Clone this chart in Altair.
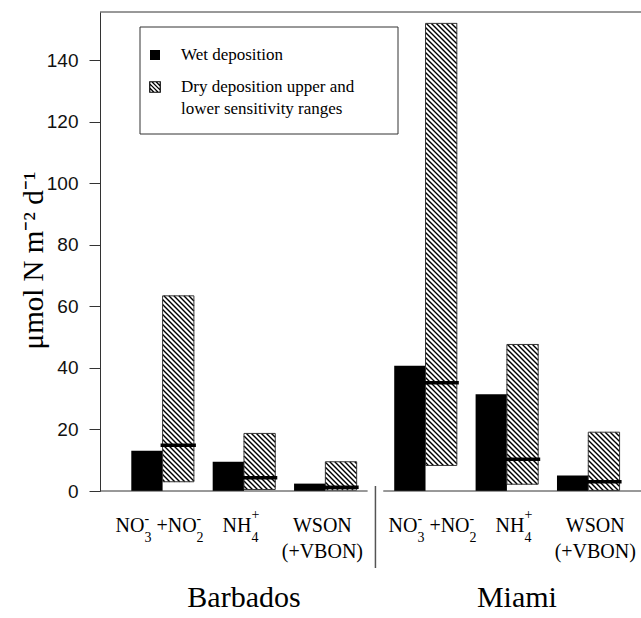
import altair as alt
import numpy as np
import pandas as pd

# ---------------- data ----------------
sites = ["Barbados", "Miami"]
species = ["NO3", "NH4", "WSON"]
wet = [13.1, 9.5, 2.4, 40.7, 31.4, 5.0]
dry_low = [3.0, 0.5, 0.3, 8.3, 2.2, 0.2]
dry_high = [63.4, 18.7, 9.5, 151.9, 47.6, 19.1]
dry_mid = [14.9, 4.3, 1.2, 35.2, 10.3, 3.0]
y_ticks = [0, 20, 40, 60, 80, 100, 120, 140]
y_title = "μmol N m⁻² d⁻¹"
legend_labels = ["Wet deposition", "Dry deposition upper and", "lower sensitivity ranges"]
# species labels: pieces (text, kind) m=main, b=subscript, p=superscript, q=high superscript,
# s=space, r=second row
species_labels = {
    "NO3": [("NO", "m"), ("3", "b"), ("-", "p"), (" ", "s"), ("+NO", "m"), ("2", "b"), ("-", "p")],
    "NH4": [("NH", "m"), ("4", "b"), ("+", "q")],
    "WSON": [("WSON", "m"), ("(+VBON)", "r")],
}

# ---------------- layout ----------------
W, H = 541, 479
BAR_PX = 31.3
XMAX = W / BAR_PX
YMAX = 155.6
PXX = W / XMAX
PXY = H / YMAX
FIRST, STEP, SITE_GAP = 1.0, 2.6, 0.6
HATCH = 5.0
INK = "#333333"
SERIF = "Liberation Serif"
SANS = "Liberation Sans"
SITE_LABEL_SHIFT = [0, 10]      # px
SPECIES_LABEL_SHIFT = [-3, 7]   # px, per site

xs = alt.Scale(domain=[0, XMAX], nice=False, zero=False)
ys = alt.Scale(domain=[0, YMAX], nice=False, zero=False)

rows = []
for k in range(6):
    s, i = divmod(k, 3)
    left = FIRST + k * STEP + s * SITE_GAP
    rows.append(dict(site=sites[s], s=s, species=species[i], wl=left, wr=left + 1,
                     dl=left + 1, dr=left + 2, zero=0.0, wet=wet[k],
                     lo=dry_low[k], hi=dry_high[k], mid=dry_mid[k]))
bars = pd.DataFrame(rows)

# hatch segments (45 degree lines in screen space, clipped to each dry bar)
segs = []
for r in rows:
    X0, X1 = r["dl"] * PXX, r["dr"] * PXX
    Yt, Yb = (YMAX - r["hi"]) * PXY, (YMAX - r["lo"]) * PXY
    kmin = int(np.floor((Yt - X1) / HATCH)) - 1
    kmax = int(np.ceil((Yb - X0) / HATCH)) + 1
    for kk in range(kmin, kmax + 1):
        c = kk * HATCH
        a = max(X0, Yt - c)
        b = min(X1, Yb - c)
        if b - a > 0.4:
            segs.append(dict(x=a / PXX, x2=b / PXX,
                             y=YMAX - (a + c) / PXY, y2=YMAX - (b + c) / PXY))
hatch_df = pd.DataFrame(segs)

# frame lines
b_end = rows[2]["dr"]
m_start = rows[3]["wl"]
sep = (b_end + m_start) / 2
frame_df = pd.DataFrame([
    dict(x0=0.0, x1=XMAX, y=YMAX),
    dict(x0=0.0, x1=sep - 0.25, y=0.0),
    dict(x0=sep + 0.25, x1=XMAX, y=0.0),
])
sep_df = pd.DataFrame([dict(x=sep)])

# species label pieces
TW = {"N": 722, "O": 722, "H": 722, "W": 944, "S": 556, "B": 667, "V": 722,
      "+": 564, "(": 333, ")": 333, "-": 333, " ": 250, "2": 500, "3": 500, "4": 500}


def tw(s, fs):
    return sum(TW[c] for c in s) / 1000 * fs


FS, FSS = 20, 14
pieces = []
for r in rows:
    parts = species_labels[r["species"]]
    cursor = 0.0
    stack_x, stack_w = 0.0, 0.0
    placed = []
    prev = None
    row2 = None
    for t, kind in parts:
        if kind == "r":
            row2 = t
            continue
        fs = FSS if kind in ("b", "p", "q") else FS
        w = tw(t, fs)
        if kind == "b":
            stack_x, stack_w = cursor, w
            placed.append((t, cursor, kind))
            cursor += w
        elif kind in ("p", "q") and prev == "b":
            placed.append((t, stack_x, kind))
            cursor = stack_x + max(stack_w, w)
        elif kind == "s":
            cursor += w
        else:
            placed.append((t, cursor, kind))
            cursor += w
        prev = kind
    total = cursor
    shift = SPECIES_LABEL_SHIFT[r["s"]]
    for t, dx, kind in placed:
        pieces.append(dict(t=t, x=r["dl"] + (dx - total / 2 + shift) / PXX, kind=kind))
    if row2:
        pieces.append(dict(t=row2, x=r["dl"] + (shift - tw(row2, FS) / 2) / PXX, kind="r"))
pieces_df = pd.DataFrame(pieces)

site_df = pd.DataFrame([
    dict(t=sites[0], x=(rows[0]["wl"] + rows[2]["dr"]) / 2 + SITE_LABEL_SHIFT[0] / PXX),
    dict(t=sites[1], x=(rows[3]["wl"] + rows[5]["dr"]) / 2 + SITE_LABEL_SHIFT[1] / PXX),
])

one = pd.DataFrame([dict(k=1)])

# ---------------- chart ----------------
yaxis = alt.Axis(values=y_ticks, tickSize=11, tickColor=INK, domainColor=INK,
                 tickWidth=1, domainWidth=1, grid=False,
                 labelFont=SANS, labelFontSize=19, labelColor="#111111", labelPadding=11,
                 title=y_title, titleFont=SERIF, titleFontSize=29, titleFontWeight="normal",
                 titleColor="black", titleX=-58, titleY=248, titleAngle=270,
                 titleAlign="center", titleBaseline="alphabetic")


def X(f):
    return alt.X(f, scale=xs, axis=None)


def Y(f):
    return alt.Y(f, scale=ys, axis=yaxis)


wet_bars = alt.Chart(bars).mark_rect(color="black").encode(
    x=X("wl:Q"), x2="wr:Q", y=Y("zero:Q"), y2="wet:Q")

dry_fill = alt.Chart(bars).mark_rect(fill="white", strokeWidth=0).encode(
    x=X("dl:Q"), x2="dr:Q", y=Y("lo:Q"), y2="hi:Q")

hatch = alt.Chart(hatch_df).mark_rule(color="#000000", strokeWidth=1.4).encode(
    x=X("x:Q"), x2="x2:Q", y=Y("y:Q"), y2="y2:Q")

dry_outline = alt.Chart(bars).mark_rect(fillOpacity=0, stroke=INK, strokeWidth=1).encode(
    x=X("dl:Q"), x2="dr:Q", y=Y("lo:Q"), y2="hi:Q")

medians = alt.Chart(bars).mark_rule(color="black", strokeWidth=3.5, xOffset=-2, x2Offset=2).encode(
    x=X("dl:Q"), x2="dr:Q", y=Y("mid:Q"))

frame = alt.Chart(frame_df).mark_rule(color=INK, strokeWidth=1).encode(
    x=X("x0:Q"), x2="x1:Q", y=Y("y:Q"))

separator = alt.Chart(sep_df).mark_rule(color="#555555", strokeWidth=1.5).encode(
    x=X("x:Q"), y=alt.value(474), y2=alt.value(556))

ROWS = {"m": (520, FS), "b": (530, FSS), "p": (511, FSS), "q": (507, FSS), "r": (546, FS)}
label_layers = []
for kind, (py, fs) in ROWS.items():
    label_layers.append(
        alt.Chart(pieces_df[pieces_df["kind"] == kind]).mark_text(
            align="left", baseline="alphabetic", font=SERIF, fontSize=fs, color="black"
        ).encode(x=X("x:Q"), y=alt.value(py), text="t:N")
    )

site_labels = alt.Chart(site_df).mark_text(align="center", baseline="alphabetic", font=SERIF,
                                           fontSize=30, color="black").encode(
    x=X("x:Q"), y=alt.value(595), text="t:N")

legend_box = alt.Chart(one).mark_rect(fill="white", stroke=INK, strokeWidth=1).encode(
    x=alt.value(40), x2=alt.value(298), y=alt.value(15), y2=alt.value(122))

legend_wet = alt.Chart(one).mark_point(shape="square", filled=True, fill="black",
                                       size=100, opacity=1).encode(
    x=alt.value(55), y=alt.value(43))

HATCH_PATH = ("M-1,-1H1V1H-1Z M0.2,-1L1,-0.2 M-0.6,-1L1,0.6 "
              "M-1,-0.6L0.6,1 M-1,0.2L-0.2,1")
legend_dry = alt.Chart(one).mark_point(shape=HATCH_PATH, fill="white", fillOpacity=1,
                                       stroke="black", strokeWidth=1.2, size=110,
                                       opacity=1).encode(
    x=alt.value(55), y=alt.value(75))

legend_text_layers = []
for lab, py in zip(legend_labels, [43, 75, 97]):
    legend_text_layers.append(
        alt.Chart(one).mark_text(align="left", baseline="middle", font=SERIF,
                                 fontSize=17, color="black", text=lab).encode(
            x=alt.value(81), y=alt.value(py))
    )

chart = alt.layer(
    wet_bars, dry_fill, hatch, dry_outline, medians, frame, separator,
    *label_layers, site_labels, legend_box, legend_wet, legend_dry, *legend_text_layers
).properties(
    width=W, height=H,
    padding={"left": 100, "top": 12, "right": 0, "bottom": 127},
    autosize="none",
).configure_view(stroke=None)

chart.save("out.html", embed_options={"renderer": "svg", "actions": False})
